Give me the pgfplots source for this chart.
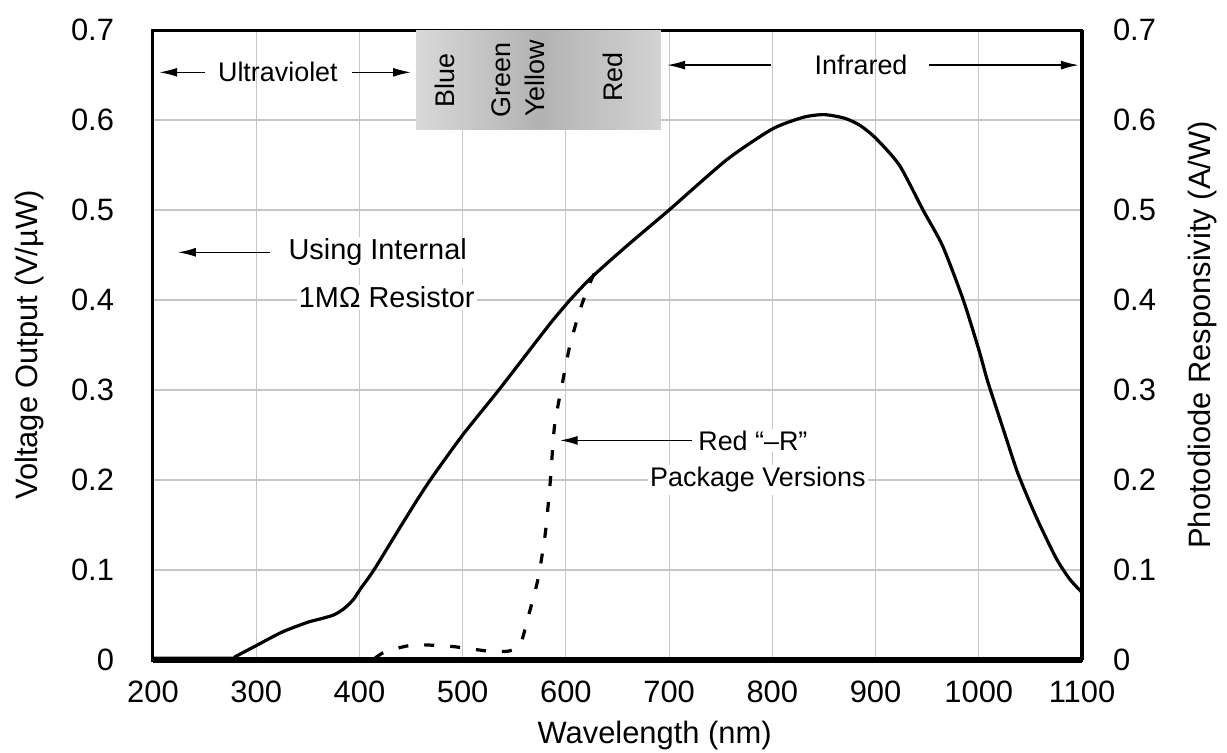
\documentclass[border=0pt]{standalone}
\usepackage{pgfplots}
\pgfplotsset{compat=1.18}
\usepackage{fontspec}
\setmainfont{Liberation Sans}
\usetikzlibrary{arrows.meta}

\pgfplotstableread{
x y
200 0.002
275 0.002
280 0.004
300 0.016
325 0.031
350 0.042
360 0.045
375 0.050
385 0.057
394 0.067
401 0.079
414 0.100
437 0.143
456 0.178
471 0.204
500 0.250
535 0.300
570 0.352
587 0.377
604 0.400
622 0.422
642 0.443
665 0.466
700 0.500
756 0.556
800 0.590
830 0.603
850 0.606
870 0.602
885 0.594
900 0.580
923 0.550
946 0.500
965 0.460
985 0.400
1000 0.345
1008 0.312
1017 0.280
1025 0.252
1038 0.207
1056 0.158
1075 0.113
1088 0.090
1100 0.075
}\solidtab

\pgfplotstableread{
x y
415 0.002
423 0.008
440 0.014
456 0.017
490 0.015
524 0.010
545 0.010
556 0.018
564 0.050
573 0.090
580 0.140
585 0.200
589 0.260
597 0.310
604 0.350
614 0.390
623 0.418
633 0.443
}\dashtab

\begin{document}
\begin{tikzpicture}
\begin{axis}[name=ax,
  scale only axis, width=464.5bp, height=315bp,
  xmin=200, xmax=1100, ymin=0, ymax=0.7,
  clip=false,
  xtick={200,300,400,500,600,700,800,900,1000,1100},
  xticklabels={200,300,400,500,600,700,800,900,1000,1100},
  ytick={0,0.1,0.2,0.3,0.4,0.5,0.6,0.7},
  yticklabels={0,0.1,0.2,0.3,0.4,0.5,0.6,0.7},
  major tick length=0pt,
  grid=major,
  grid style={gray!45, line width=0.6bp},
  axis line style={line width=1.5bp},
  ticklabel style={font=\fontsize{15.5}{18}\selectfont},
  xticklabel style={yshift=-7bp},
  yticklabel style={xshift=-16bp},
  xlabel={Wavelength (nm)},
  xlabel style={at={(axis description cs:0.54,0)}, anchor=center, yshift=-38bp, font=\fontsize{15.5}{18}\selectfont},
  ylabel={Voltage Output (V/µW)},
  ylabel style={at={(axis description cs:-0.1324,0.5)}, anchor=center, font=\fontsize{15.5}{18}\selectfont},
]
% spectral band
\shade[left color=gray!30, right color=gray!35, middle color=gray!60]
  (axis cs:455,0.59) rectangle (axis cs:692,0.7);
\draw[line width=2.5bp] (axis cs:200,0) -- (axis cs:1100,0);

\addplot[black, line width=1.6bp, smooth, tension=0.4] table[x=x,y=y] {\solidtab};
\addplot[black, line width=1.6bp, dash pattern=on 5bp off 8bp, smooth, tension=0.4] table[x=x,y=y] {\dashtab};

% band labels
\begin{scope}[every node/.style={font=\fontsize{13.5}{16}\selectfont, rotate=90, anchor=center}]
\node at (axis cs:483,0.644) {Blue};
\node at (axis cs:537,0.644) {Green};
\node at (axis cs:570,0.646) {Yellow};
\node at (axis cs:646,0.648) {Red};
\end{scope}

\tikzset{annarrow/.style={line width=0.8bp, -{Latex[length=9bp,width=4.5bp]}}}
% ultraviolet
\draw[annarrow] (axis cs:250,0.653) -- (axis cs:206,0.653);
\node[font=\fontsize{13.5}{16}\selectfont] at (axis cs:321,0.653) {Ultraviolet};
\draw[annarrow] (axis cs:393,0.653) -- (axis cs:450,0.653);

% infrared
\draw[annarrow] (axis cs:799,0.661) -- (axis cs:698,0.661);
\node[font=\fontsize{13.5}{16}\selectfont] at (axis cs:886,0.661) {Infrared};
\draw[annarrow] (axis cs:952,0.661) -- (axis cs:1097,0.661);

% using internal
\draw[annarrow] (axis cs:313,0.453) -- (axis cs:224,0.453);
\node[anchor=west, fill=white, inner sep=1bp, font=\fontsize{14.5}{17}\selectfont] at (axis cs:329,0.453) {Using Internal};
\node[anchor=west, fill=white, inner sep=1bp, font=\fontsize{14.5}{17}\selectfont] at (axis cs:339,0.403) {1MΩ Resistor};

% red -R
\draw[annarrow] (axis cs:722,0.244) -- (axis cs:594,0.244);
\node[anchor=west, fill=white, inner sep=1bp, font=\fontsize{13.5}{16}\selectfont] at (axis cs:726,0.244) {Red “–R”};
\node[fill=white, inner sep=1bp, font=\fontsize{13.5}{16}\selectfont] at (axis cs:786,0.200) {Package Versions};
\end{axis}

\begin{axis}[
  scale only axis, width=464.5bp, height=315bp,
  xmin=200, xmax=1100, ymin=0, ymax=0.7,
  axis x line=none, axis y line*=right,
  ytick={0,0.1,0.2,0.3,0.4,0.5,0.6,0.7},
  yticklabels={0,0.1,0.2,0.3,0.4,0.5,0.6,0.7},
  major tick length=0pt,
  axis line style={line width=1.5bp},
  ticklabel style={font=\fontsize{15.5}{18}\selectfont},
  yticklabel style={xshift=12bp},
  ylabel={Photodiode Responsivity (A/W)},
  ylabel style={at={(axis description cs:1.13,0.516)}, anchor=center, rotate=0, font=\fontsize{15.5}{18}\selectfont},
]
\end{axis}

\pgfresetboundingbox
\path (ax.south west) ++(-76.5bp,-46.5bp) rectangle ++(613.5bp,376.5bp);
\end{tikzpicture}
\end{document}
